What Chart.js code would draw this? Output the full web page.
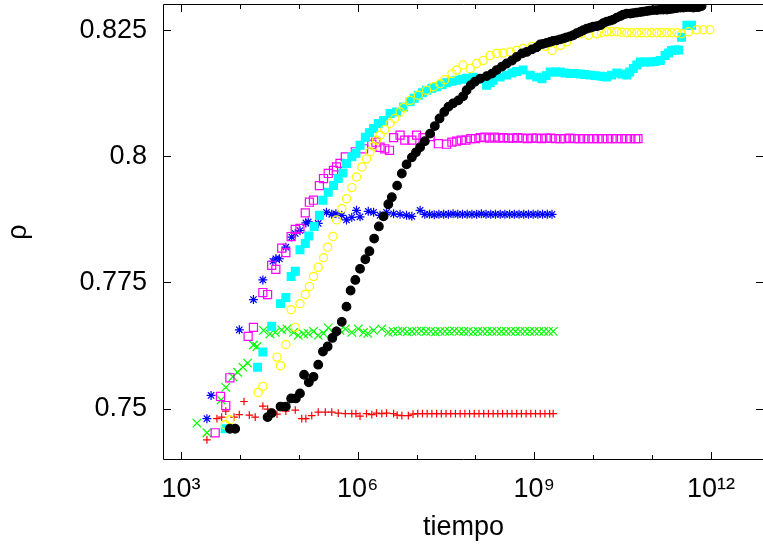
<!DOCTYPE html>
<html>
<head>
<meta charset="utf-8">
<script src="https://cdn.jsdelivr.net/npm/chart.js@4.4.1/dist/chart.umd.min.js"></script>
<style>
  html, body { margin: 0; padding: 0; background: #fff; }
  canvas { display: block; }
</style>
</head>
<body>
<canvas id="grafico" width="763" height="550"></canvas>
<script>
// valores: [log10(tiempo), rho]
const rojo = [[3.44,0.7438],[3.61,0.7480],[3.69,0.7483],[3.76,0.7495],[3.90,0.7483],[3.99,0.7488],[4.07,0.7514],[4.16,0.7487],[4.26,0.7483],[4.39,0.7505],[4.47,0.7499],[4.63,0.7489],[4.78,0.7495],[4.94,0.7497],[5.05,0.7480],[5.12,0.7480],[5.22,0.7486],[5.33,0.7493],[5.45,0.7493],[5.56,0.7493],[5.67,0.7491],[5.79,0.7490],[5.90,0.7490],[5.97,0.7490],[6.04,0.7485],[6.15,0.7490],[6.24,0.7488],[6.32,0.7491],[6.41,0.7490],[6.49,0.7491],[6.61,0.7490],[6.67,0.7487],[6.75,0.7486],[6.86,0.7486],[6.94,0.7489],[7.02,0.7490],[7.10,0.7490],[7.18,0.7490],[7.26,0.7490],[7.34,0.7490],[7.42,0.7490],[7.50,0.7490],[7.58,0.7490],[7.66,0.7490],[7.74,0.7490],[7.82,0.7490],[7.90,0.7490],[7.98,0.7490],[8.06,0.7490],[8.14,0.7490],[8.22,0.7490],[8.30,0.7490],[8.38,0.7490],[8.46,0.7490],[8.54,0.7490],[8.62,0.7490],[8.70,0.7490],[8.78,0.7490],[8.86,0.7490],[8.94,0.7490],[9.02,0.7490],[9.10,0.7490],[9.18,0.7490],[9.26,0.7490],[9.32,0.7490]];
const verde = [[3.27,0.7471],[3.44,0.7452],[3.68,0.7517],[3.76,0.7542],[3.88,0.7563],[3.96,0.7572],[4.05,0.7582],[4.13,0.7590],[4.23,0.7626],[4.29,0.7623],[4.40,0.7655],[4.51,0.7648],[4.60,0.7651],[4.71,0.7656],[4.80,0.7658],[4.91,0.7651],[4.99,0.7645],[5.08,0.7648],[5.16,0.7649],[5.25,0.7653],[5.33,0.7645],[5.42,0.7649],[5.50,0.7660],[5.59,0.7651],[5.70,0.7655],[5.79,0.7658],[5.90,0.7651],[6.01,0.7658],[6.10,0.7651],[6.17,0.7649],[6.27,0.7655],[6.41,0.7658],[6.52,0.7651],[6.60,0.7653],[6.68,0.7653],[6.76,0.7654],[6.84,0.7652],[6.92,0.7653],[7.00,0.7653],[7.08,0.7654],[7.16,0.7653],[7.24,0.7653],[7.32,0.7652],[7.40,0.7653],[7.48,0.7653],[7.56,0.7653],[7.64,0.7654],[7.72,0.7653],[7.80,0.7653],[7.88,0.7653],[7.96,0.7652],[8.04,0.7653],[8.12,0.7653],[8.20,0.7653],[8.28,0.7653],[8.36,0.7653],[8.44,0.7653],[8.52,0.7653],[8.60,0.7653],[8.68,0.7653],[8.76,0.7653],[8.84,0.7653],[8.92,0.7653],[9.00,0.7653],[9.08,0.7653],[9.16,0.7653],[9.24,0.7653],[9.32,0.7653]];
const azul = [[3.44,0.7480],[3.51,0.7526],[3.99,0.7656],[4.23,0.7716],[4.39,0.7755],[4.56,0.7792],[4.61,0.7797],[4.67,0.7797],[4.78,0.7820],[4.88,0.7840],[4.94,0.7847],[5.02,0.7853],[5.12,0.7868],[5.16,0.7870],[5.33,0.7867],[5.47,0.7889],[5.56,0.7885],[5.63,0.7886],[5.73,0.7883],[5.81,0.7874],[5.90,0.7879],[5.98,0.7893],[6.04,0.7880],[6.18,0.7891],[6.27,0.7889],[6.38,0.7883],[6.49,0.7889],[6.61,0.7886],[6.72,0.7885],[6.83,0.7883],[6.92,0.7881],[7.06,0.7893],[7.14,0.7885],[7.22,0.7885],[7.30,0.7884],[7.38,0.7885],[7.46,0.7885],[7.54,0.7885],[7.62,0.7886],[7.70,0.7885],[7.78,0.7885],[7.86,0.7885],[7.94,0.7885],[8.02,0.7885],[8.10,0.7886],[8.18,0.7885],[8.26,0.7885],[8.34,0.7885],[8.42,0.7885],[8.50,0.7885],[8.58,0.7885],[8.66,0.7885],[8.74,0.7885],[8.82,0.7885],[8.90,0.7885],[8.98,0.7885],[9.06,0.7885],[9.14,0.7885],[9.22,0.7885],[9.30,0.7885]];
const magenta = [[3.58,0.7452],[3.67,0.7524],[3.76,0.7506],[3.83,0.7561],[4.14,0.7643],[4.23,0.7661],[4.39,0.7730],[4.47,0.7726],[4.54,0.7784],[4.61,0.7776],[4.71,0.7818],[4.78,0.7809],[4.87,0.7841],[4.94,0.7855],[5.02,0.7857],[5.11,0.7888],[5.18,0.7909],[5.25,0.7913],[5.35,0.7942],[5.42,0.7956],[5.50,0.7966],[5.59,0.7972],[5.64,0.7979],[5.70,0.7986],[5.79,0.7999],[5.96,0.8009],[6.10,0.8015],[6.24,0.8024],[6.31,0.8028],[6.38,0.8018],[6.46,0.8015],[6.54,0.8012],[6.61,0.8037],[6.72,0.8042],[6.80,0.8032],[6.92,0.8032],[7.00,0.8042],[7.11,0.8037],[7.23,0.8039],[7.37,0.8025],[7.51,0.8024],[7.60,0.8028],[7.68,0.8030],[7.76,0.8032],[7.84,0.8032],[7.92,0.8035],[8.00,0.8035],[8.08,0.8037],[8.16,0.8038],[8.24,0.8036],[8.32,0.8038],[8.40,0.8036],[8.48,0.8037],[8.56,0.8036],[8.64,0.8036],[8.72,0.8037],[8.80,0.8036],[8.88,0.8035],[8.96,0.8036],[9.04,0.8036],[9.12,0.8035],[9.20,0.8036],[9.28,0.8036],[9.36,0.8035],[9.44,0.8035],[9.52,0.8035],[9.60,0.8036],[9.68,0.8035],[9.76,0.8035],[9.84,0.8035],[9.92,0.8035],[10.00,0.8035],[10.08,0.8035],[10.16,0.8035],[10.24,0.8035],[10.32,0.8035],[10.40,0.8035],[10.48,0.8035],[10.56,0.8035],[10.64,0.8035],[10.72,0.8035],[10.76,0.8035]];
const cian = [[3.75,0.7460],[4.30,0.7582],[4.39,0.7612],[4.54,0.7663],[4.69,0.7708],[4.78,0.7720],[4.87,0.7762],[4.94,0.7772],[5.02,0.7815],[5.11,0.7827],[5.17,0.7842],[5.26,0.7861],[5.35,0.7883],[5.41,0.7913],[5.50,0.7929],[5.59,0.7942],[5.67,0.7956],[5.75,0.7967],[5.81,0.7986],[5.90,0.7999],[5.97,0.8006],[6.04,0.8022],[6.13,0.8038],[6.20,0.8047],[6.27,0.8055],[6.35,0.8065],[6.44,0.8071],[6.55,0.8085],[6.66,0.8088],[6.78,0.8098],[6.89,0.8108],[6.96,0.8115],[7.03,0.8121],[7.10,0.8126],[7.17,0.8131],[7.26,0.8135],[7.34,0.8138],[7.43,0.8142],[7.51,0.8146],[7.60,0.8149],[7.68,0.8151],[7.77,0.8153],[7.85,0.8155],[7.96,0.8157],[8.08,0.8153],[8.19,0.8141],[8.25,0.8146],[8.30,0.8151],[8.42,0.8157],[8.53,0.8161],[8.62,0.8165],[8.70,0.8168],[8.81,0.8171],[8.93,0.8161],[9.04,0.8157],[9.13,0.8154],[9.20,0.8160],[9.27,0.8167],[9.36,0.8167],[9.44,0.8167],[9.52,0.8165],[9.61,0.8164],[9.69,0.8164],[9.78,0.8163],[9.86,0.8162],[9.95,0.8161],[10.03,0.8160],[10.12,0.8159],[10.18,0.8158],[10.23,0.8157],[10.31,0.8161],[10.40,0.8165],[10.48,0.8163],[10.57,0.8161],[10.62,0.8167],[10.68,0.8174],[10.74,0.8181],[10.80,0.8187],[10.88,0.8187],[10.97,0.8187],[11.05,0.8188],[11.14,0.8190],[11.22,0.8200],[11.28,0.8205],[11.33,0.8210],[11.39,0.8211],[11.45,0.8211],[11.50,0.8236],[11.59,0.8260],[11.67,0.8260]];
const amarillo = [[3.75,0.7468],[3.83,0.7478],[4.31,0.7532],[4.39,0.7544],[4.63,0.7602],[4.69,0.7585],[4.78,0.7627],[4.87,0.7696],[4.94,0.7661],[5.02,0.7708],[5.11,0.7726],[5.18,0.7742],[5.25,0.7762],[5.33,0.7780],[5.42,0.7799],[5.49,0.7820],[5.58,0.7841],[5.64,0.7874],[5.73,0.7896],[5.81,0.7916],[5.90,0.7938],[5.98,0.7959],[6.07,0.7979],[6.15,0.7995],[6.21,0.8009],[6.27,0.8020],[6.32,0.8032],[6.38,0.8042],[6.46,0.8053],[6.55,0.8065],[6.63,0.8075],[6.72,0.8088],[6.78,0.8097],[6.89,0.8111],[7.03,0.8121],[7.17,0.8131],[7.29,0.8138],[7.40,0.8144],[7.48,0.8152],[7.60,0.8164],[7.68,0.8171],[7.79,0.8181],[7.91,0.8174],[8.02,0.8184],[8.13,0.8190],[8.25,0.8200],[8.36,0.8204],[8.47,0.8205],[8.59,0.8207],[8.70,0.8210],[8.81,0.8214],[8.96,0.8218],[9.07,0.8220],[9.18,0.8218],[9.30,0.8210],[9.44,0.8220],[9.55,0.8227],[9.66,0.8240],[9.78,0.8243],[9.92,0.8240],[10.06,0.8243],[10.14,0.8245],[10.23,0.8247],[10.31,0.8247],[10.40,0.8247],[10.48,0.8246],[10.57,0.8245],[10.65,0.8245],[10.74,0.8245],[10.82,0.8245],[10.91,0.8245],[10.99,0.8245],[11.08,0.8245],[11.16,0.8245],[11.25,0.8245],[11.33,0.8245],[11.42,0.8245],[11.50,0.8243],[11.62,0.8247],[11.76,0.8251],[11.87,0.8251],[11.98,0.8251]];
const negro = [[3.83,0.7460],[3.92,0.7460],[4.47,0.7483],[4.54,0.7491],[4.69,0.7504],[4.78,0.7504],[4.87,0.7520],[4.95,0.7520],[5.02,0.7530],[5.09,0.7567],[5.17,0.7552],[5.25,0.7563],[5.33,0.7587],[5.41,0.7613],[5.49,0.7623],[5.57,0.7640],[5.64,0.7653],[5.73,0.7672],[5.81,0.7702],[5.88,0.7734],[5.96,0.7755],[6.04,0.7777],[6.13,0.7796],[6.20,0.7812],[6.28,0.7837],[6.36,0.7861],[6.44,0.7881],[6.52,0.7905],[6.58,0.7919],[6.67,0.7942],[6.75,0.7966],[6.83,0.7984],[6.92,0.7998],[6.99,0.8008],[7.06,0.8018],[7.14,0.8030],[7.23,0.8045],[7.31,0.8060],[7.39,0.8075],[7.47,0.8088],[7.54,0.8098],[7.62,0.8105],[7.71,0.8111],[7.79,0.8119],[7.85,0.8131],[7.92,0.8141],[7.99,0.8148],[8.08,0.8154],[8.19,0.8159],[8.28,0.8164],[8.36,0.8171],[8.45,0.8178],[8.53,0.8184],[8.62,0.8190],[8.70,0.8197],[8.79,0.8204],[8.87,0.8207],[8.96,0.8212],[9.04,0.8216],[9.10,0.8222],[9.15,0.8223],[9.21,0.8225],[9.27,0.8227],[9.32,0.8229],[9.38,0.8230],[9.44,0.8232],[9.50,0.8234],[9.55,0.8236],[9.61,0.8238],[9.66,0.8240],[9.72,0.8244],[9.78,0.8247],[9.83,0.8250],[9.89,0.8253],[9.95,0.8255],[10.00,0.8257],[10.06,0.8258],[10.12,0.8260],[10.17,0.8264],[10.23,0.8267],[10.29,0.8269],[10.34,0.8271],[10.40,0.8275],[10.46,0.8278],[10.51,0.8281],[10.57,0.8283],[10.63,0.8283],[10.68,0.8284],[10.74,0.8285],[10.80,0.8286],[10.85,0.8287],[10.91,0.8288],[10.96,0.8289],[11.02,0.8290],[11.08,0.8290],[11.14,0.8291],[11.19,0.8291],[11.25,0.8291],[11.31,0.8292],[11.36,0.8293],[11.42,0.8294],[11.48,0.8295],[11.53,0.8295],[11.59,0.8296],[11.64,0.8296],[11.70,0.8295],[11.75,0.8296],[11.79,0.8296],[11.84,0.8298]];

const xTicks = [1e3, 1e4, 1e5, 1e6, 1e7, 1e8, 1e9, 1e10, 1e11, 1e12];
const xLabels = ['10³', '', '', '10⁶', '', '', '10⁹', '', '', '10¹²'];
const yTicks = [0.75, 0.775, 0.8, 0.825];
const yLabels = ['0.75', '0.775', '0.8', '0.825'];

const fuente = "'Liberation Sans', Arial, sans-serif";

function puntos(serie) {
    return serie.map(p => ({ x: Math.pow(10, p[0]), y: p[1] }));
}

// marco y marcas hacia adentro, estilo gnuplot
const marco = {
    id: 'marco',
    beforeDatasetsDraw(chart) {
        const { ctx, chartArea: a, scales } = chart;
        ctx.save();
        ctx.strokeStyle = '#000';
        ctx.lineWidth = 1;
        ctx.beginPath();
        ctx.moveTo(a.right, a.top - 0.5);
        ctx.lineTo(a.left - 0.5, a.top - 0.5);
        ctx.lineTo(a.left - 0.5, a.bottom + 0.5);
        ctx.lineTo(a.right, a.bottom + 0.5);
        xTicks.forEach((v, i) => {
            const px = Math.round(scales.x.getPixelForValue(v)) + 0.5;
            const len = xLabels[i] ? 7 : 4;
            ctx.moveTo(px, a.bottom);
            ctx.lineTo(px, a.bottom - len);
            ctx.moveTo(px, a.top);
            ctx.lineTo(px, a.top + len);
        });
        yTicks.forEach(v => {
            const py = Math.round(scales.y.getPixelForValue(v)) + 0.5;
            ctx.moveTo(a.left, py);
            ctx.lineTo(a.left + 7, py);
            ctx.moveTo(a.right, py);
            ctx.lineTo(a.right - 7, py);
        });
        ctx.stroke();
        ctx.restore();
    }
};

const series = [
    { datos: rojo, color: '#ff0000', estilo: 'cross', radio: 3.8, lleno: false, orden: 7 },
    { datos: verde, color: '#00ff00', estilo: 'crossRot', radio: 6, lleno: false, orden: 6 },
    { datos: azul, color: '#0000ff', estilo: 'star', radio: 4.5, lleno: false, orden: 5 },
    { datos: magenta, color: '#ff00ff', estilo: 'rect', radio: 5.7, lleno: false, orden: 4 },
    { datos: cian, color: '#00ffff', estilo: 'rect', radio: 5.5, lleno: true, orden: 3 },
    { datos: amarillo, color: '#ffff00', estilo: 'circle', radio: 4.1, lleno: false, orden: 2 },
    { datos: negro, color: '#000000', estilo: 'circle', radio: 4.3, lleno: true, orden: 1 }
];

const config = {
    type: 'scatter',
    data: {
        datasets: series.map(s => ({
            data: puntos(s.datos),
            pointStyle: s.estilo,
            pointRadius: s.radio,
            pointHoverRadius: s.radio,
            borderColor: s.color,
            backgroundColor: s.lleno ? s.color : 'rgba(0,0,0,0)',
            borderWidth: 1.2,
            order: s.orden
        }))
    },
    options: {
        responsive: false,
        animation: false,
        events: [],
        layout: { autoPadding: false, padding: { top: 5, right: 0, bottom: 0, left: 0 } },
        plugins: {
            legend: { display: false },
            tooltip: { enabled: false }
        },
        scales: {
            x: {
                type: 'logarithmic',
                min: 514,
                max: 7.64e12,
                grid: { display: false, drawTicks: false, tickLength: 0 },
                border: { display: false },
                afterBuildTicks: s => { s.ticks = xTicks.map(v => ({ value: v })); },
                afterFit: s => { s.height = 91; s.paddingLeft = 0; s.paddingRight = 0; },
                ticks: {
                    autoSkip: false,
                    maxRotation: 0,
                    padding: 14,
                    color: '#000',
                    font: { family: fuente, size: 27 },
                    callback: (v, i) => xLabels[i]
                },
                title: {
                    display: true,
                    text: 'tiempo',
                    color: '#000',
                    font: { family: fuente, size: 27 },
                    padding: { top: 0, bottom: 6 }
                }
            },
            y: {
                min: 0.74,
                max: 0.83,
                grid: { display: false, drawTicks: false, tickLength: 0 },
                border: { display: false },
                afterBuildTicks: s => { s.ticks = yTicks.map(v => ({ value: v })); },
                afterFit: s => { s.width = 164; s.paddingTop = 0; s.paddingBottom = 0; },
                ticks: {
                    autoSkip: false,
                    padding: 17,
                    color: '#000',
                    font: { family: fuente, size: 27 },
                    callback: (v, i) => yLabels[i]
                },
                title: {
                    display: true,
                    text: 'ρ',
                    color: '#000',
                    font: { family: fuente, size: 27 },
                    padding: { top: 2, bottom: 0 }
                }
            }
        }
    },
    plugins: [marco]
};

new Chart(document.getElementById('grafico').getContext('2d'), config);
</script>
</body>
</html>
